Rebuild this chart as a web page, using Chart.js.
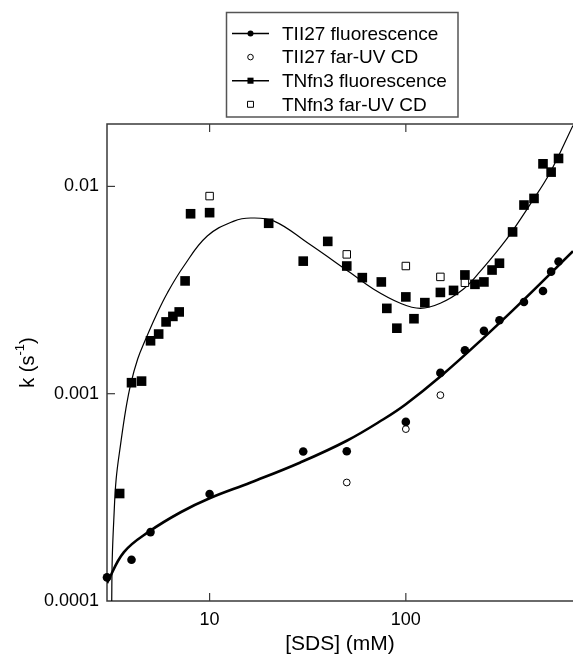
<!DOCTYPE html>
<html>
<head>
<meta charset="utf-8">
<title>Unfolding rate vs SDS</title>
<script src="https://cdn.jsdelivr.net/npm/chart.js@4.4.1/dist/chart.umd.min.js"></script>
<style>
  html, body { margin: 0; padding: 0; background: #fff; overflow: hidden; }
  canvas { display: block; }
</style>
</head>
<body>
<canvas id="chart" width="573" height="660"></canvas>
<script>
// [SDS] in mM, rate constants k in s^-1
const tii27FluorX = [3, 4, 5, 10, 30, 50, 100, 150, 200, 250, 300, 400, 500, 550, 600];
const tii27FluorY = [0.00013, 0.000158, 0.000215, 0.000328, 0.000526, 0.000528, 0.000731, 0.00126, 0.00162, 0.00201, 0.00226, 0.00277, 0.00313, 0.00388, 0.00434];

const tii27CdX = [50, 100, 150];
const tii27CdY = [0.000373, 0.000675, 0.000984];

const tnfn3FluorX = [3.48, 4.0, 4.5, 5.0, 5.5, 6.0, 6.5, 7.0, 7.5, 8.0, 10, 20, 30, 40, 50, 60, 75, 80, 90, 100, 110, 125, 150, 175, 200, 225, 250, 275, 300, 350, 400, 450, 500, 550, 600];
const tnfn3FluorY = [0.00033, 0.00113, 0.00115, 0.0018, 0.00194, 0.00222, 0.00236, 0.00248, 0.0035, 0.00738, 0.00747, 0.00664, 0.00436, 0.00543, 0.00413, 0.00363, 0.00346, 0.00258, 0.00207, 0.00293, 0.0023, 0.00275, 0.00308, 0.00315, 0.00374, 0.00337, 0.00346, 0.00395, 0.00426, 0.00603, 0.00813, 0.00875, 0.01285, 0.01172, 0.01364];

const tnfn3CdX = [10, 50, 100, 150, 200];
const tnfn3CdY = [0.00898, 0.0047, 0.00413, 0.00366, 0.00343];

// fitted curves
const tii27FitX = [3.0, 3.66, 4.91, 7.12, 10, 16.2, 29, 50, 76.9, 100, 150, 249, 396, 711];
const tii27FitY = [0.000122, 0.000172, 0.000216, 0.000268, 0.000313, 0.000373, 0.000466, 0.000593, 0.000753, 0.00089, 0.00121, 0.00186, 0.00282, 0.00487];

const tnfn3FitX = [3.17, 3.19, 3.25, 3.34, 3.52, 3.74, 3.96, 4.3, 4.72, 5.31, 6.11, 7.38, 9.73, 13.3, 16.2, 21.3, 31.4, 52, 68.6, 93.8, 118.5, 149.8, 196.1, 239.3, 302.6, 348.4, 430, 543.7, 711];
const tnfn3FitY = [0.0000968, 0.000159, 0.000248, 0.000387, 0.000571, 0.00084, 0.00111, 0.00147, 0.00183, 0.00236, 0.00308, 0.00412, 0.00576, 0.0068, 0.00704, 0.0068, 0.00536, 0.00384, 0.00319, 0.00273, 0.00258, 0.00273, 0.00319, 0.00389, 0.00508, 0.00607, 0.00819, 0.01168, 0.01968];

const xTicks = [10, 100];
const yTicks = [0.0001, 0.001, 0.01];
const yTickLabels = ["0.0001", "0.001", "0.01"];

const FONT = "'Liberation Sans', Arial, Helvetica, sans-serif";
const AXIS = "#3a3a3a";

const pts = (xs, ys) => xs.map((x, i) => ({ x, y: ys[i] }));

const datasets = [
  { label: "TII27 fluorescence", data: pts(tii27FluorX, tii27FluorY), pointStyle: "circle", pointRadius: 4.3,
    backgroundColor: "#000", borderColor: "#000", pointBorderWidth: 0, showLine: false, clip: false },
  { label: "TII27 far-UV CD", data: pts(tii27CdX, tii27CdY), pointStyle: "circle", pointRadius: 3.4,
    backgroundColor: "#fff", borderColor: "#000", pointBorderWidth: 1, showLine: false, clip: false },
  { label: "TNfn3 fluorescence", data: pts(tnfn3FluorX, tnfn3FluorY), pointStyle: "rect", pointRadius: 6.8,
    backgroundColor: "#000", borderColor: "#000", pointBorderWidth: 0, showLine: false, clip: false },
  { label: "TNfn3 far-UV CD", data: pts(tnfn3CdX, tnfn3CdY), pointStyle: "rect", pointRadius: 5.3,
    backgroundColor: "#fff", borderColor: "#000", pointBorderWidth: 1, showLine: false, clip: false },
  { label: "TII27 fit", data: pts(tii27FitX, tii27FitY), showLine: true, pointRadius: 0, borderColor: "#000",
    borderWidth: 2.6, tension: 0.4, fill: false },
  { label: "TNfn3 fit", data: pts(tnfn3FitX, tnfn3FitY), showLine: true, pointRadius: 0, borderColor: "#000",
    borderWidth: 1.2, tension: 0.4, fill: false },
];

// legend rows: marker dataset + optional fit line width
const legendRows = [
  { ds: 0, line: 1.5, r: 3, style: "circle" },
  { ds: 1, line: 0, r: 2.8, style: "circle" },
  { ds: 2, line: 1.5, r: 4.3, style: "rect" },
  { ds: 3, line: 0, r: 4.2, style: "rect" },
];

function seg(ctx, x1, y1, x2, y2) {
  ctx.beginPath();
  ctx.moveTo(x1, y1);
  ctx.lineTo(x2, y2);
  ctx.stroke();
}

const frame = {
  id: "frame",
  beforeDatasetsDraw(chart) {
    const { ctx, chartArea: a, scales: { x, y } } = chart;
    ctx.save();
    ctx.strokeStyle = AXIS;
    ctx.lineWidth = 1.5;
    ctx.beginPath();
    ctx.moveTo(a.right, a.top);
    ctx.lineTo(a.left, a.top);
    ctx.lineTo(a.left, a.bottom);
    ctx.lineTo(a.right, a.bottom);
    ctx.stroke();
    ctx.lineWidth = 1.2;
    xTicks.forEach((v) => {
      const px = x.getPixelForValue(v);
      seg(ctx, px, a.bottom, px, a.bottom - 8);
      seg(ctx, px, a.top, px, a.top + 8);
    });
    yTicks.slice(1).forEach((v) => {
      const py = y.getPixelForValue(v);
      seg(ctx, a.left, py, a.left + 8, py);
    });
    ctx.restore();
  },
  afterDraw(chart) {
    const { ctx, chartArea: a } = chart;
    ctx.save();

    // y axis title with superscript
    ctx.translate(28, (a.top + a.bottom) / 2);
    ctx.rotate(-Math.PI / 2);
    ctx.fillStyle = "#000";
    ctx.textBaseline = "middle";
    const big = "20px " + FONT, small = "13px " + FONT;
    ctx.font = big;
    const w1 = ctx.measureText("k (s").width;
    const w3 = ctx.measureText(")").width;
    ctx.font = small;
    const w2 = ctx.measureText("-1").width;
    let tx = -(w1 + w2 + w3) / 2;
    ctx.font = big;
    ctx.textAlign = "left";
    ctx.fillText("k (s", tx, 0);
    tx += w1;
    ctx.font = small;
    ctx.fillText("-1", tx, -8);
    tx += w2;
    ctx.font = big;
    ctx.fillText(")", tx, 0);
    ctx.restore();

    // legend box
    ctx.save();
    ctx.strokeStyle = "#555";
    ctx.lineWidth = 1.5;
    ctx.strokeRect(226.5, 12.5, 231.5, 104.5);
    ctx.font = "19px " + FONT;
    ctx.textBaseline = "middle";
    ctx.textAlign = "left";
    legendRows.forEach((row, i) => {
      const ds = chart.data.datasets[row.ds];
      const cy = 33.5 + i * 23.6;
      ctx.strokeStyle = "#000";
      if (row.line) {
        ctx.lineWidth = row.line;
        seg(ctx, 232, cy, 269, cy);
      }
      ctx.fillStyle = ds.backgroundColor;
      ctx.strokeStyle = "#000";
      ctx.lineWidth = ds.pointBorderWidth;
      Chart.helpers.drawPoint(ctx, { pointStyle: row.style, radius: row.r, borderWidth: ds.pointBorderWidth, rotation: 0 }, 250.5, cy);
      ctx.fillStyle = "#000";
      ctx.fillText(ds.label, 282, cy + 1);
    });
    ctx.restore();
  },
};

new Chart(document.getElementById("chart"), {
  type: "scatter",
  data: { datasets },
  options: {
    responsive: false,
    animation: false,
    events: [],
    layout: { autoPadding: false, padding: { top: 124, right: 0, left: 0, bottom: 0 } },
    plugins: { legend: { display: false }, tooltip: { enabled: false } },
    scales: {
      x: {
        type: "logarithmic",
        min: 3,
        max: 711,
        grid: { display: false, drawTicks: false },
        border: { display: false },
        afterBuildTicks: (axis) => { axis.ticks = xTicks.map((v) => ({ value: v })); },
        afterFit: (axis) => {
          axis.height = 59;
          axis.paddingLeft = 0;
          axis.paddingRight = 0;
        },
        ticks: { autoSkip: false, maxRotation: 0, padding: 8, color: "#000",
          font: { family: FONT, size: 18 }, callback: (v) => String(v) },
        title: { display: true, text: "[SDS] (mM)", color: "#000",
          font: { family: FONT, size: 21 }, padding: { top: 0, bottom: 3 } },
      },
      y: {
        type: "logarithmic",
        min: 0.0001,
        max: 0.02,
        grid: { display: false, drawTicks: false },
        border: { display: false },
        afterBuildTicks: (axis) => { axis.ticks = yTicks.map((v) => ({ value: v })); },
        afterFit: (axis) => {
          axis.width = 107;
          axis.paddingTop = 0;
          axis.paddingBottom = 0;
        },
        ticks: { autoSkip: false, padding: 8, color: "#000",
          font: { family: FONT, size: 18 },
          callback: (v) => yTickLabels[yTicks.indexOf(v)] ?? "" },
      },
    },
  },
  plugins: [frame],
});
</script>
</body>
</html>
